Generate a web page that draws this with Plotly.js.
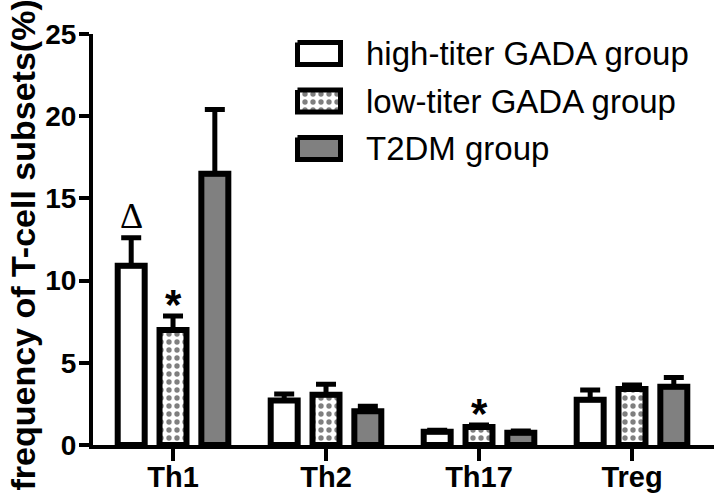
<!DOCTYPE html>
<html>
<head>
<meta charset="utf-8">
<script src="https://cdn.plot.ly/plotly-3.0.1.min.js"></script>
<style>html,body{margin:0;padding:0;background:#fff;}#chart{width:718px;height:496px;}</style>
</head>
<body>
<div id="chart"></div>
<script>
// ---- data ----
var categories = ['Th1', 'Th2', 'Th17', 'Treg'];
var seriesNames = ['high-titer GADA group', 'low-titer GADA group', 'T2DM group'];
var highTiter = [10.9, 2.7, 0.8, 2.75];
var highTiterErr = [1.7, 0.4, 0.1, 0.6];
var lowTiter = [7.0, 3.05, 1.1, 3.4];
var lowTiterErr = [0.85, 0.65, 0.12, 0.25];
var t2dm = [16.5, 2.05, 0.75, 3.55];
var t2dmErr = [3.9, 0.3, 0.1, 0.55];
var yTicks = [0, 5, 10, 15, 20, 25];
var yTitle = 'frequency of T-cell subsets(%)';
// significance marks: [series index, category, symbol]
var marks = [[0, 'Th1', '\u0394'], [1, 'Th1', '*'], [1, 'Th17', '*']];

var FONT = 'Arial, "Liberation Sans", sans-serif';
var zeros = categories.map(function () { return 0; });

function barTrace(name, y, err, fill, pattern) {
  var m = { color: fill, line: { color: '#000', width: 6 } };
  if (pattern) m.pattern = pattern;
  return {
    type: 'bar', name: name, x: categories, y: y, marker: m,
    error_y: { type: 'data', array: err, arrayminus: zeros, symmetric: false,
               color: '#000', thickness: 5, width: 10 },
    showlegend: false, hoverinfo: 'skip'
  };
}

var lowPattern = { shape: '.', fgcolor: '#000', bgcolor: '#fff', size: 8, solidity: 0.35, fillmode: 'overlay' };
var traces = [
  barTrace(seriesNames[0], highTiter, highTiterErr, '#ffffff'),
  barTrace(seriesNames[1], lowTiter, lowTiterErr, '#ffffff', lowPattern),
  barTrace(seriesNames[2], t2dm, t2dmErr, '#808080')
];

// ---- legend (drawn on an overlay pixel-like axis pair) ----
var legFills = ['#ffffff', '#ffffff', '#808080'];
var legPatterns = [null, lowPattern, null];
var legX0 = 297.5, legX1 = 340.5, legY0 = 53.5, legDY = 47.5, legH = 22;
var annotations = [];
seriesNames.forEach(function (n, i) {
  var cy = legY0 + i * legDY;
  var t = {
    type: 'scatter', mode: 'lines', xaxis: 'x2', yaxis: 'y2',
    x: [legX0, legX1, legX1, legX0, legX0],
    y: [cy - legH / 2, cy - legH / 2, cy + legH / 2, cy + legH / 2, cy - legH / 2],
    fill: 'toself', fillcolor: legFills[i],
    line: { color: '#000', width: 5 }, showlegend: false, hoverinfo: 'skip'
  };
  if (legPatterns[i]) t.fillpattern = legPatterns[i];
  traces.push(t);
  annotations.push({ xref: 'x2', yref: 'y2', x: 364, y: cy, xanchor: 'left', yanchor: 'middle',
    text: n, showarrow: false, font: { family: FONT, size: 33, color: '#000' } });
});

var groupOffsets = [-42, 0, 42];
var seriesVals = [highTiter, lowTiter, t2dm];
var seriesErrs = [highTiterErr, lowTiterErr, t2dmErr];
marks.forEach(function (mk) {
  var si = mk[0], ci = categories.indexOf(mk[1]);
  var isDelta = mk[2] !== '*';
  annotations.push({
    xref: 'x', yref: 'y', x: mk[1], y: seriesVals[si][ci] + seriesErrs[si][ci],
    xshift: groupOffsets[si], yshift: isDelta ? 0 : -14,
    xanchor: 'center', yanchor: 'bottom', text: mk[2], showarrow: false,
    font: isDelta ? { family: '"Liberation Serif", "Times New Roman", serif', size: 36, color: '#000' }
                  : { family: FONT, size: 42, color: '#000', weight: 'bold' }
  });
});

// y-axis title as a rotated annotation
annotations.push({
  xref: 'paper', yref: 'paper', x: -0.1143, y: 0.5, yshift: -6,
  xanchor: 'center', yanchor: 'middle', textangle: -90, text: yTitle, showarrow: false,
  font: { family: FONT, size: 34, color: '#000', weight: 'bold' }
});

var layout = {
  width: 718, height: 496,
  margin: { l: 93, r: 4, t: 34, b: 51 },
  paper_bgcolor: '#fff', plot_bgcolor: '#fff',
  barmode: 'group', bargap: 0.18, bargroupgap: 0.355,
  showlegend: false,
  xaxis: {
    type: 'category', range: [-0.523, 3.536], showgrid: false, zeroline: false,
    showline: true, linecolor: '#000', linewidth: 4,
    ticks: 'outside', ticklen: 12, tickwidth: 4, tickcolor: '#000',
    ticklabelstandoff: -9,
    tickfont: { family: FONT, size: 29, color: '#000', weight: 'bold' }
  },
  yaxis: {
    range: [0, 25], autorange: false, tickvals: yTicks, ticktext: yTicks.map(String),
    showgrid: false, zeroline: false,
    showline: true, linecolor: '#000', linewidth: 4,
    ticks: 'outside', ticklen: 10, tickwidth: 4, tickcolor: '#000',
    ticklabelstandoff: -3,
    tickfont: { family: FONT, size: 28, color: '#000', weight: 'bold' }
  },
  xaxis2: { overlaying: 'x', range: [93, 714], visible: false, fixedrange: true },
  yaxis2: { overlaying: 'y', range: [445, 34], visible: false, fixedrange: true },
  annotations: annotations
};

Plotly.newPlot('chart', traces, layout, { displayModeBar: false, staticPlot: true });
</script>
</body>
</html>
